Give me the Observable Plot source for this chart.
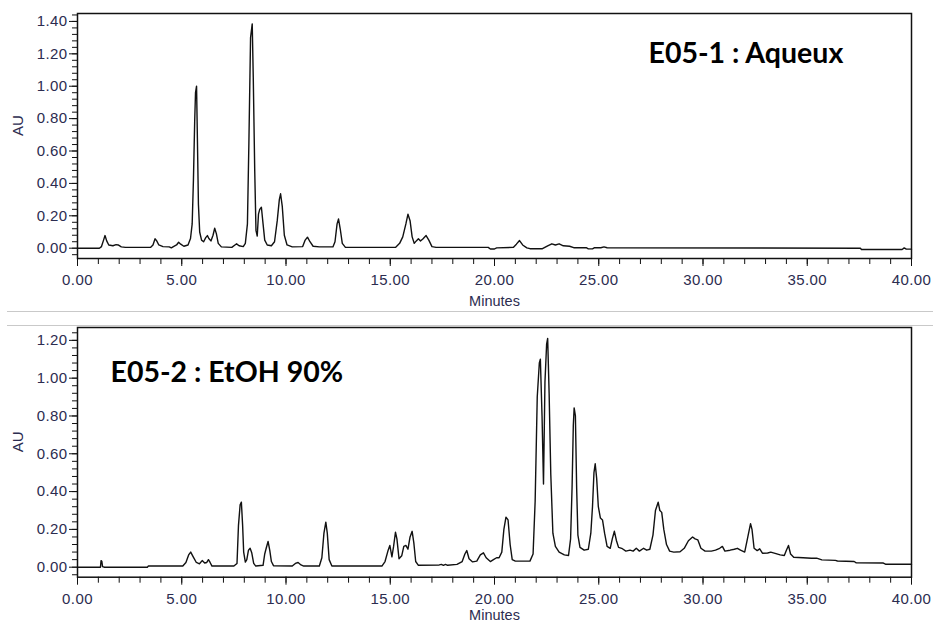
<!DOCTYPE html>
<html><head><meta charset="utf-8">
<script src="https://cdn.jsdelivr.net/npm/d3@7"></script>
<script src="https://cdn.jsdelivr.net/npm/@observablehq/plot@0.6"></script>
<style>
body{margin:0;background:#fff;}
#wrap{position:relative;width:933px;height:626px;overflow:hidden;background:#fff;}
.sep{position:absolute;left:7px;right:0;height:1px;background:#c9c9c9;z-index:2;}
#p1{position:absolute;left:0;top:0;}
#p2{position:absolute;left:0;top:312px;}
#wrap svg g[aria-label$="tick label"] text{letter-spacing:0.4px;}
</style></head><body>
<div id="wrap"><div id="p1"></div><div id="p2"></div><div class="sep" style="top:311px"></div><div class="sep" style="top:325px"></div></div>
<script>
// ---- Data: E05-1 Aqueux (time in minutes, absorbance AU)
const timeA = [0.00,1.05,1.15,1.25,1.32,1.40,1.50,1.70,1.85,1.95,2.10,2.30,3.50,3.62,3.72,3.80,3.90,4.10,4.40,4.50,4.60,4.75,4.85,4.95,5.10,5.30,5.42,5.50,5.56,5.62,5.66,5.71,5.75,5.80,5.86,5.95,6.05,6.15,6.23,6.30,6.40,6.50,6.58,6.66,6.75,6.90,7.40,7.55,7.63,7.75,7.95,8.05,8.15,8.22,8.30,8.38,8.43,8.50,8.56,8.62,8.68,8.74,8.82,8.90,8.98,9.10,9.30,9.45,9.58,9.68,9.74,9.82,9.92,10.05,10.30,10.80,10.92,11.03,11.15,11.30,11.60,12.25,12.35,12.45,12.52,12.60,12.70,12.85,15.25,15.45,15.60,15.75,15.85,15.95,16.05,16.15,16.25,16.35,16.45,16.55,16.72,16.85,17.00,17.20,19.70,19.80,20.00,20.10,20.90,21.05,21.20,21.35,21.55,21.70,22.30,22.55,22.75,22.92,23.10,23.30,23.60,23.80,24.40,24.50,24.70,24.80,25.10,25.25,25.40,37.55,37.60,39.55,39.65,39.75,40.00];
const auA = [0.000,0.000,0.010,0.050,0.078,0.045,0.020,0.015,0.022,0.020,0.008,0.005,0.005,0.020,0.058,0.045,0.020,0.010,0.008,0.002,0.010,0.020,0.037,0.025,0.012,0.020,0.060,0.150,0.420,0.780,0.960,1.000,0.680,0.270,0.100,0.050,0.040,0.065,0.078,0.060,0.045,0.080,0.123,0.090,0.030,0.008,0.005,0.020,0.027,0.015,0.010,0.030,0.150,0.650,1.300,1.385,1.055,0.480,0.110,0.075,0.210,0.240,0.253,0.150,0.050,0.020,0.015,0.040,0.170,0.300,0.336,0.260,0.080,0.020,0.008,0.010,0.050,0.068,0.040,0.012,0.008,0.008,0.040,0.150,0.180,0.120,0.030,0.005,0.005,0.030,0.070,0.150,0.210,0.170,0.070,0.030,0.045,0.058,0.045,0.055,0.078,0.050,0.010,0.005,0.005,-0.005,-0.005,0.002,0.005,0.025,0.047,0.020,0.002,-0.003,-0.003,0.015,0.027,0.020,0.027,0.015,0.012,0.003,0.003,-0.004,-0.004,0.003,0.003,0.008,0.003,0.000,-0.008,-0.008,0.002,-0.006,-0.006];

// ---- Data: E05-2 EtOH 90%
const timeB = [0.00,1.10,1.13,1.17,1.20,1.30,3.35,3.40,5.05,5.20,5.33,5.43,5.55,5.70,5.85,5.98,6.10,6.20,6.28,6.36,6.45,7.50,7.65,7.72,7.80,7.86,7.92,7.97,8.05,8.12,8.20,8.28,8.36,8.45,8.55,8.90,8.98,9.05,9.14,9.22,9.30,9.40,10.30,10.45,10.58,10.72,10.85,11.60,11.72,11.82,11.91,11.98,12.07,12.20,14.60,14.75,14.90,14.98,15.08,15.16,15.25,15.32,15.42,15.55,15.65,15.75,15.85,15.95,16.05,16.13,16.22,16.35,17.35,17.45,17.55,17.65,17.75,18.20,18.45,18.58,18.67,18.78,18.95,19.15,19.32,19.47,19.60,19.80,19.95,20.10,20.22,20.35,20.45,20.55,20.65,20.75,20.85,21.00,21.70,21.85,21.95,22.05,22.15,22.20,22.28,22.35,22.42,22.50,22.55,22.62,22.70,22.80,22.92,23.10,23.35,23.55,23.65,23.72,23.78,23.82,23.88,23.94,24.00,24.10,24.30,24.50,24.62,24.70,24.77,24.83,24.90,24.98,25.08,25.18,25.28,25.40,25.55,25.65,25.75,25.85,25.95,26.10,26.30,26.50,26.65,26.80,26.95,27.15,27.30,27.45,27.60,27.72,27.85,27.93,28.02,28.12,28.25,28.40,28.60,28.90,29.10,29.30,29.50,29.62,29.75,29.90,30.10,30.40,30.60,30.80,30.93,31.05,31.30,31.50,31.65,31.80,32.00,32.15,32.28,32.35,32.45,32.60,32.72,32.85,33.10,33.25,33.50,33.70,33.90,34.00,34.10,34.20,34.35,34.80,35.20,35.45,35.70,36.35,36.45,37.25,37.35,38.65,38.75,40.00];
const auB = [0.000,0.000,0.035,0.030,0.003,0.000,0.000,0.006,0.006,0.025,0.065,0.080,0.055,0.025,0.018,0.035,0.022,0.025,0.040,0.025,0.006,0.006,0.020,0.220,0.330,0.344,0.220,0.080,0.027,0.040,0.090,0.100,0.075,0.020,0.006,0.010,0.070,0.100,0.136,0.090,0.030,0.008,0.006,0.020,0.025,0.012,0.006,0.006,0.050,0.180,0.238,0.180,0.040,0.006,0.006,0.030,0.090,0.115,0.055,0.110,0.185,0.150,0.045,0.060,0.110,0.115,0.095,0.160,0.190,0.130,0.030,0.010,0.012,0.015,0.010,0.015,0.010,0.015,0.030,0.070,0.088,0.045,0.028,0.032,0.065,0.076,0.050,0.030,0.040,0.050,0.050,0.080,0.200,0.265,0.250,0.120,0.040,0.032,0.032,0.070,0.350,0.900,1.080,1.100,0.800,0.440,0.980,1.180,1.210,0.920,0.490,0.180,0.110,0.080,0.065,0.062,0.150,0.420,0.750,0.843,0.800,0.420,0.170,0.105,0.090,0.095,0.180,0.320,0.500,0.547,0.470,0.320,0.260,0.250,0.180,0.110,0.100,0.150,0.190,0.140,0.105,0.100,0.085,0.090,0.085,0.100,0.085,0.100,0.090,0.095,0.170,0.300,0.344,0.300,0.290,0.200,0.120,0.085,0.080,0.082,0.100,0.140,0.160,0.150,0.145,0.100,0.085,0.085,0.090,0.100,0.110,0.085,0.090,0.095,0.100,0.090,0.080,0.160,0.230,0.200,0.100,0.088,0.097,0.074,0.075,0.080,0.072,0.065,0.062,0.090,0.115,0.070,0.053,0.050,0.047,0.048,0.039,0.036,0.033,0.030,0.023,0.022,0.016,0.016];

// ---- Tick labels
const xTicks = [0, 5, 10, 15, 20, 25, 30, 35, 40];
const yTicksA = [0, 0.2, 0.4, 0.6, 0.8, 1.0, 1.2, 1.4];
const yTicksB = [0, 0.2, 0.4, 0.6, 0.8, 1.0, 1.2];
const titles = ["E05-1 : Aqueux", "E05-2 : EtOH 90%"];
const xLabel = "Minutes";
const yLabel = "AU";

const fmt = d3.format(".2f");
const labelFill = "#2c2c50";

function panel({t, v, yDomain, yTicks, title, titleDx, titleDy, height, mt, mb, xLabDy}) {
  const data = t.map((x, i) => ({t: x, v: v[i]}));
  const minorY = d3.range(0, yDomain[1], 0.04).concat([-0.04]);
  return Plot.plot({
    width: 933, height,
    marginLeft: 77, marginRight: 22, marginTop: mt, marginBottom: mb,
    style: {fontFamily: "'Liberation Sans', Arial, sans-serif", fontSize: "15px", background: "transparent", color: "#111"},
    x: {domain: [0, 40]},
    y: {domain: yDomain},
    marks: [
      Plot.axisX(d3.range(0, 41, 1), {tickSize: 6, tickFormat: () => "", label: null, stroke: "#111"}),
      Plot.axisX(xTicks, {tickSize: 8, tickPadding: 8, tickFormat: fmt, label: null, fill: labelFill, stroke: "#111"}),
      Plot.axisY(minorY.filter(d => d >= yDomain[0]), {tickSize: 5, tickFormat: () => "", label: null, stroke: "#111"}),
      Plot.axisY(yTicks, {tickSize: 8, tickPadding: 2, tickFormat: fmt, label: null, fill: labelFill, stroke: "#111"}),
      Plot.frame({stroke: "#111", strokeWidth: 1.5}),
      Plot.line(data, {x: "t", y: "v", stroke: "#111", strokeWidth: 1.4}),
      Plot.text([title], {frameAnchor: "top-left", dx: titleDx, dy: titleDy, textAnchor: "start", lineAnchor: "middle",
        fontFamily: "Lato, 'Open Sans', sans-serif", fontWeight: "bold", fontSize: 28.5, fill: "#000"}),
      Plot.text([yLabel], {frameAnchor: "left", dx: -59, rotate: -90, fontSize: 15, fill: labelFill}),
      Plot.text([xLabel], {frameAnchor: "bottom", dy: xLabDy, lineAnchor: "middle", fontSize: 14.5, fill: labelFill})
    ]
  });
}

document.getElementById("p1").append(panel({
  t: timeA, v: auA, yDomain: [-0.0636, 1.449], yTicks: yTicksA,
  title: titles[0], titleDx: 571, titleDy: 40, height: 312, mt: 13, mb: 54, xLabDy: 43
}));
document.getElementById("p2").append(panel({
  t: timeB, v: auB, yDomain: [-0.0529, 1.268], yTicks: yTicksB,
  title: titles[1], titleDx: 33, titleDy: 45.5, height: 314, mt: 15, mb: 49.3, xLabDy: 38
}));
</script>
</body></html>
